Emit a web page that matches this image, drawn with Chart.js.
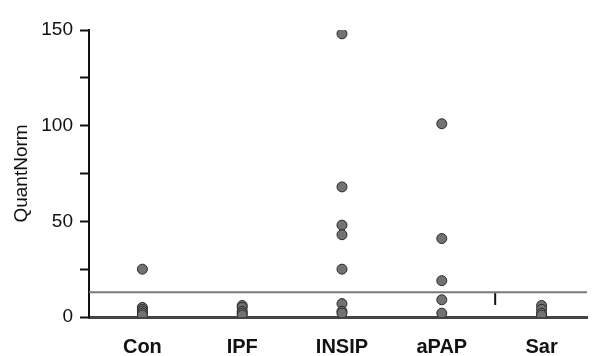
<!DOCTYPE html>
<html>
<head>
<meta charset="utf-8">
<script src="https://cdn.jsdelivr.net/npm/chart.js@4.4.1/dist/chart.umd.min.js"></script>
<style>
  body { margin: 0; background: #fff; }
  #wrap { width: 593px; height: 356px; position: relative; }
</style>
</head>
<body>
<div id="wrap"><canvas id="myChart"></canvas></div>
<script>
const categories = ['Con', 'IPF', 'INSIP', 'aPAP', 'Sar'];
const conValues = [25, 5, 4, 3, 2, 1];
const ipfValues = [6, 5, 3, 2, 1];
const insipValues = [148, 68, 48, 43, 25, 7, 3, 2];
const apapValues = [101, 41, 19, 9, 2];
const sarValues = [6, 4, 2, 1];
const cutoff = 13;
const yTicks = [0, 25, 50, 75, 100, 125, 150];
const separatorX = 4.535;
const separatorY = [6.3, 12.5];

const xMin = 0.465, xMax = 5.455;

const groups = [conValues, ipfValues, insipValues, apapValues, sarValues];
let points = [];
groups.forEach(function(vals, i){
    vals.forEach(function(v){
        points.push({ x: i + 1, y: v });
    });
});

const ctx = document.getElementById('myChart');

const data = {
    datasets: [
        {
            type: 'line',
            data: [{ x: xMin, y: cutoff }, { x: xMax, y: cutoff }],
            borderColor: '#7a7a7a',
            borderWidth: 2,
            pointRadius: 0
        },
        {
            type: 'line',
            data: separatorY.map(function(y){ return { x: separatorX, y: y }; }),
            borderColor: '#111',
            borderWidth: 2,
            pointRadius: 0
        },
        {
            type: 'scatter',
            data: points,
            backgroundColor: '#727272',
            borderColor: '#2a2a2a',
            borderWidth: 1,
            pointRadius: 5
        }
    ]
};

const config = {
    type: 'scatter',
    data: data,
    options: {
        responsive: true,
        maintainAspectRatio: false,
        animation: false,
        layout: { padding: { top: 30, left: 0, right: 0, bottom: 0 } },
        plugins: { legend: { display: false }, tooltip: { enabled: false } },
        scales: {
            x: {
                type: 'linear',
                min: xMin,
                max: xMax,
                afterBuildTicks: function(scale){
                    scale.ticks = categories.map(function(c, i){ return { value: i + 1 }; });
                },
                afterFit: function(scale){ scale.height = 39; },
                grid: { display: false, drawTicks: false },
                border: { display: true, color: '#444', width: 3 },
                ticks: {
                    callback: function(v){ return categories[v - 1]; },
                    font: { family: 'Liberation Sans, Arial', size: 20, weight: 'bold' },
                    color: '#111',
                    padding: 18,
                    maxRotation: 0
                }
            },
            y: {
                min: 0,
                max: 150,
                afterBuildTicks: function(scale){
                    scale.ticks = yTicks.map(function(v){ return { value: v }; });
                },
                afterFit: function(scale){ scale.width = 89; },
                grid: { drawOnChartArea: false, tickLength: 9, tickColor: '#111', tickWidth: 2 },
                border: { color: '#111', width: 2 },
                ticks: {
                    callback: function(v){ return v % 50 === 0 ? v : ''; },
                    font: { family: 'Liberation Sans Narrow, Liberation Sans, Arial', size: 19 },
                    color: '#111',
                    padding: 7
                },
                title: {
                    display: true,
                    text: 'QuantNorm',
                    font: { family: 'Liberation Sans, Arial', size: 19 },
                    color: '#111',
                    padding: { top: 10, bottom: 0 }
                }
            }
        }
    }
};

const myChart = new Chart(ctx, config);
</script>
</body>
</html>
